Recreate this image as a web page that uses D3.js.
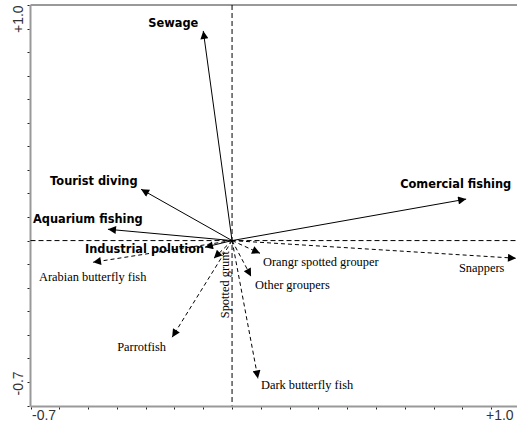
<!DOCTYPE html>
<html><head><meta charset="utf-8">
<script src="https://cdn.jsdelivr.net/npm/d3@7"></script>
<style>body{margin:0;background:#fff}svg{display:block}</style>
</head><body>
<script>
// Explanatory variables (solid arrows)
const envNames = ["Sewage", "Tourist diving", "Aquarium fishing", "Industrial polution", "Comercial fishing"];
const envX = [-0.100, -0.316, -0.431, -0.094, 0.813];
const envY = [0.890, 0.218, 0.048, -0.028, 0.176];

// Response species (dashed arrows)
const spNames = ["Arabian butterfly fish", "Snappers", "Orangr spotted grouper", "Other groupers", "Spotted grunt", "Parrotfish", "Dark butterfly fish"];
const spX = [-0.483, 0.986, 0.097, 0.066, -0.063, -0.208, 0.090];
const spY = [-0.092, -0.075, -0.054, -0.152, -0.075, -0.410, -0.585];

const axisMin = -0.7, axisMax = 1.0;
const axisLabels = ["-0.7", "+1.0"];

// label layout (pixel offsets from arrow tip)
const envLabelOff = [[-55,-4],[-91,-4],[-75,-6],[-120,6],[-66,-11]];
const spLabelOff = [[-54,19],[-57,14],[3,13],[4,13],[15,60],[-55,14],[3,11]];

const W = 517, H = 424;
const svg = d3.select("body").append("svg").attr("width", W).attr("height", H);

const x = d3.scaleLinear().domain([axisMin, axisMax]).range([30.5, 520]);
const y = d3.scaleLinear().domain([axisMin, axisMax]).range([405.5, 5]);

const defs = svg.append("defs");
defs.append("marker").attr("id","ah").attr("viewBox","0 0 10 10")
  .attr("refX",10).attr("refY",5).attr("markerWidth",10).attr("markerHeight",8)
  .attr("markerUnits","userSpaceOnUse").attr("orient","auto")
  .append("path").attr("d","M0,0 L10,5 L0,10 Z").attr("fill","#000");

// frame
const frame = svg.append("g").attr("stroke","#999").attr("stroke-width",2).attr("fill","none");
frame.append("line").attr("x1",x(axisMin)).attr("x2",W).attr("y1",y(axisMax)).attr("y2",y(axisMax));
frame.append("line").attr("x1",x(axisMin)).attr("x2",x(axisMin)).attr("y1",y(axisMax)).attr("y2",y(axisMin)+1);
frame.append("line").attr("x1",x(axisMin)).attr("x2",W).attr("y1",y(axisMin)+1).attr("y2",y(axisMin)+1);

// ticks
const ticks = d3.range(-7, 11).map(d => d/10);
svg.append("g").selectAll("line").data(ticks).join("line")
  .attr("x1", x(axisMin)-3).attr("x2", x(axisMin)-1)
  .attr("y1", d => Math.round(y(d))+0.5).attr("y2", d => Math.round(y(d))+0.5)
  .attr("stroke","#222").attr("stroke-width",1);
svg.append("g").selectAll("line").data(ticks.filter(d => x(d) < W)).join("line")
  .attr("y1", y(axisMin)+2).attr("y2", y(axisMin)+4)
  .attr("x1", d => Math.round(x(d))+0.5).attr("x2", d => Math.round(x(d))+0.5)
  .attr("stroke","#222").attr("stroke-width",1);

// zero lines
svg.append("line").attr("x1",x(0)).attr("x2",x(0)).attr("y1",y(axisMax)).attr("y2",y(axisMin))
  .attr("stroke","#000").attr("stroke-dasharray","5,3");
svg.append("line").attr("x1",x(axisMin)).attr("x2",W).attr("y1",y(0)).attr("y2",y(0))
  .attr("stroke","#000").attr("stroke-dasharray","5,3");

// axis end labels
const lab = svg.append("g").attr("font-family","Liberation Sans, Arial, sans-serif").attr("font-size",14).attr("fill","#333");
lab.append("text").attr("x",32).attr("y",420).text(axisLabels[0]);
lab.append("text").attr("x",486).attr("y",420).text(axisLabels[1]);
lab.append("text").attr("transform",`translate(23,${y(axisMax)+28}) rotate(-90)`).text(axisLabels[1]);
lab.append("text").attr("transform",`translate(23,${y(axisMin)-10}) rotate(-90)`).text(axisLabels[0]);

// species arrows
const sp = spNames.map((n,i)=>({n, x:spX[i], y:spY[i], o:spLabelOff[i]}));
svg.append("g").selectAll("line").data(sp).join("line")
  .attr("x1",x(0)).attr("y1",y(0)).attr("x2",d=>x(d.x)).attr("y2",d=>y(d.y))
  .attr("stroke","#000").attr("stroke-width",1).attr("stroke-dasharray","4,3")
  .attr("marker-end","url(#ah)");
svg.append("g").attr("font-family","Liberation Serif, Times New Roman, serif").attr("font-size",12.4).attr("fill","#000")
  .selectAll("text").data(sp).join("text")
  .attr("transform", d => {
    const tx = x(d.x)+d.o[0], ty = y(d.y)+d.o[1];
    return d.n === "Spotted grunt" ? `translate(${tx},${ty}) rotate(-90)` : `translate(${tx},${ty})`;
  })
  .text(d=>d.n);

// environmental arrows
const env = envNames.map((n,i)=>({n, x:envX[i], y:envY[i], o:envLabelOff[i]}));
svg.append("g").selectAll("line").data(env).join("line")
  .attr("x1",x(0)).attr("y1",y(0)).attr("x2",d=>x(d.x)).attr("y2",d=>y(d.y))
  .attr("stroke","#000").attr("stroke-width",1)
  .attr("marker-end","url(#ah)");
svg.append("g").attr("font-family","DejaVu Sans, Verdana, sans-serif").attr("font-weight","bold").attr("font-size",11.4).attr("fill","#000")
  .selectAll("text").data(env).join("text")
  .attr("x", d=>x(d.x)+d.o[0]).attr("y", d=>y(d.y)+d.o[1])
  .text(d=>d.n);
</script>
</body></html>
